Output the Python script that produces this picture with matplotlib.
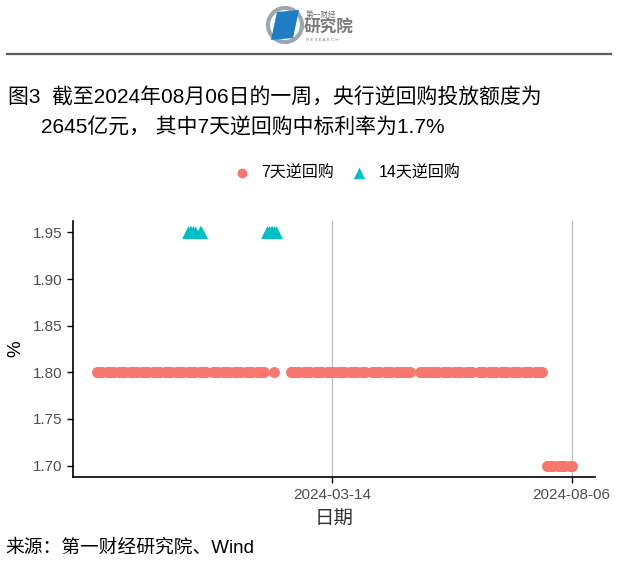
import numpy as np
import pandas as pd
import matplotlib
matplotlib.use("Agg")
import matplotlib.pyplot as plt
import matplotlib.dates as mdates
from matplotlib.patches import Circle, Polygon

plt.rcParams['font.family'] = ['Liberation Sans', 'Noto Sans CJK SC', 'DejaVu Sans']

# 7-day reverse repo: operation periods (start, end, winning bid rate %)
rate7_starts = ["2023-10-24", "2024-02-08", "2024-02-18", "2024-07-22"]
rate7_ends = ["2024-02-02", "2024-02-08", "2024-07-19", "2024-08-06"]
rate7_values = [1.80, 1.80, 1.80, 1.70]

# market holidays / weekend make-up workdays inside the window
holidays = ["2024-01-01", "2024-04-04", "2024-04-05", "2024-05-01",
            "2024-05-02", "2024-05-03", "2024-06-10"]
extra_workdays = ["2024-02-18", "2024-04-07", "2024-04-28", "2024-05-11"]

# 14-day reverse repo operation days
rate14_dates = ["2023-12-18", "2023-12-19", "2023-12-20", "2023-12-21",
                "2023-12-22", "2023-12-25", "2023-12-26",
                "2024-02-04", "2024-02-05", "2024-02-06", "2024-02-07",
                "2024-02-08", "2024-02-09"]
rate14_value = 1.95

x_ticks = ["2024-03-14", "2024-08-06"]
y_ticks = [1.70, 1.75, 1.80, 1.85, 1.90, 1.95]

title_1 = "图3  截至2024年08月06日的一周，央行逆回购投放额度为"
title_2 = "2645亿元， 其中7天逆回购中标利率为1.7%"
source = "来源：第一财经研究院、Wind"

red = "#F8766D"
teal = "#00BFC4"


def trading_days(start, end):
    s, e = pd.Timestamp(start), pd.Timestamp(end)
    days = pd.bdate_range(s, e, freq="C", holidays=holidays)
    extra = pd.DatetimeIndex([d for d in pd.to_datetime(extra_workdays) if s <= d <= e])
    return days.union(extra)


d7, v7 = [], []
for s, e, v in zip(rate7_starts, rate7_ends, rate7_values):
    days = trading_days(s, e)
    d7.extend(days)
    v7.extend([v] * len(days))
d14 = pd.to_datetime(rate14_dates)
v14 = [rate14_value] * len(d14)

W, H = 640, 563
fig = plt.figure(figsize=(W / 100, H / 100), dpi=100)

# background layer for header, logo and footer (pixel coords)
bg = fig.add_axes([0, 0, 1, 1])
bg.set_xlim(0, W)
bg.set_ylim(H, 0)
bg.axis("off")

# logo
bg.add_patch(Circle((285, 25), 17, fill=False, lw=3.0, ec="#9AA6B0"))
bg.add_patch(Polygon([[277, 12], [299, 10], [293, 38], [271, 40]],
                     closed=True, fc="#1F7DC4", ec="none"))
bg.text(306, 15, "第一财经", fontsize=5.5, color="#6E6E6E", va="center")
bg.text(304, 28, "研究院", fontsize=12, color="#7A7A7A", va="center", fontweight="bold")
bg.text(306, 40, "R E S E A R C H", fontsize=3.2, color="#7A7A7A", va="center")
bg.plot([7, 611], [54, 54], color="#5A5A5A", lw=1.6)

bg.text(8, 97, title_1, fontsize=15, va="center", ha="left", color="black", fontweight=500)
bg.text(41, 128, title_2, fontsize=15, va="center", ha="left", color="black", fontweight=500)
bg.text(5, 548, source, fontsize=13.5, va="center", ha="left", color="black")

# main plot
ax = fig.add_axes([73.3 / W, 1 - 477.3 / H, (595.4 - 73.3) / W, (477.3 - 220.7) / H])
ax.scatter(d7, v7, s=62, marker="o", color=red, linewidths=0, label="7天逆回购", zorder=3)
ax.scatter(d14, v14, s=85, marker="^", color=teal, linewidths=0, label="14天逆回购", zorder=3)

xmin, xmax = min(d7 + list(d14)), max(d7 + list(d14))
pad = (xmax - xmin) * 0.05
ax.set_xlim(xmin - pad, xmax + pad)
ax.set_ylim(1.70 - 0.0125, 1.95 + 0.0125)

ax.set_xticks(pd.to_datetime(x_ticks))
ax.xaxis.set_major_formatter(mdates.DateFormatter("%Y-%m-%d"))
ax.set_yticks(y_ticks)
ax.set_yticklabels([f"{v:.2f}" for v in y_ticks])
ax.tick_params(axis="both", labelsize=11, labelcolor="#4D4D4D", color="black",
               length=4.5, width=1)
ax.grid(axis="x", color="#BDBDBD", lw=0.9)
ax.set_axisbelow(True)
for side in ["top", "right"]:
    ax.spines[side].set_visible(False)
for side in ["left", "bottom"]:
    ax.spines[side].set_linewidth(1.2)

ax.set_xlabel("日期", fontsize=14, color="#333333", labelpad=6)
ax.set_ylabel("%", fontsize=13.5, color="black", labelpad=6)

fig.legend(loc="center", bbox_to_anchor=(343 / W, 1 - 173 / H), ncol=2, frameon=False,
           fontsize=11.5, handletextpad=0.2, columnspacing=0.6, markerscale=0.9)

fig.savefig("out.png", dpi=100)
